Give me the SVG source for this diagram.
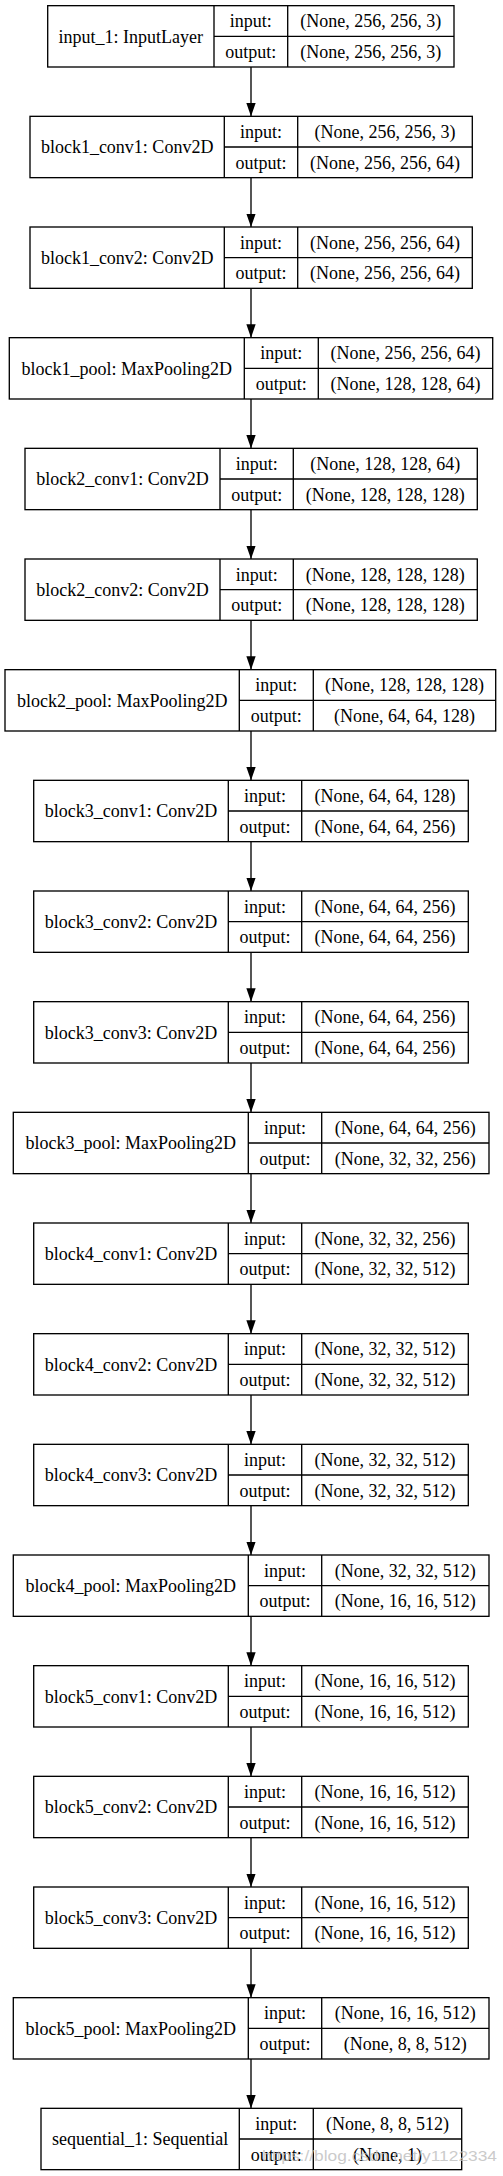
<svg xmlns="http://www.w3.org/2000/svg" width="503" height="2176" viewBox="0 0 503 2176">
<style>
.b{fill:#fff;stroke:#000;stroke-width:1.33}
.l{stroke:#000;stroke-width:1.33;fill:none}
text{font-family:"Liberation Serif","Times New Roman",serif;font-size:18px;fill:#000;text-anchor:middle}
.wm{font-family:"Liberation Sans",Arial,sans-serif;font-size:15px;fill:#bdbdbd;fill-opacity:0.8;text-anchor:start}
</style>
<defs>
<marker id="ah" markerUnits="userSpaceOnUse" markerWidth="13.33" markerHeight="9.33" viewBox="0 0 13.33 9.33" refX="13.33" refY="4.67" orient="auto">
<path d="M0,0 L13.33,4.67 L0,9.33 z" fill="#000"/>
</marker>
</defs>
<rect width="503" height="2176" fill="#fff"/>
<g id="connectors">
<path class="l" marker-end="url(#ah)" d="M251,67 V116.33"/>
<path class="l" marker-end="url(#ah)" d="M251,177.67 V227"/>
<path class="l" marker-end="url(#ah)" d="M251,288.33 V337.67"/>
<path class="l" marker-end="url(#ah)" d="M251,399 V448.33"/>
<path class="l" marker-end="url(#ah)" d="M251,509.67 V559"/>
<path class="l" marker-end="url(#ah)" d="M251,620.33 V669.67"/>
<path class="l" marker-end="url(#ah)" d="M251,731 V780.33"/>
<path class="l" marker-end="url(#ah)" d="M251,841.67 V891"/>
<path class="l" marker-end="url(#ah)" d="M251,952.33 V1001.67"/>
<path class="l" marker-end="url(#ah)" d="M251,1063 V1112.33"/>
<path class="l" marker-end="url(#ah)" d="M251,1173.67 V1223"/>
<path class="l" marker-end="url(#ah)" d="M251,1284.33 V1333.67"/>
<path class="l" marker-end="url(#ah)" d="M251,1395 V1444.33"/>
<path class="l" marker-end="url(#ah)" d="M251,1505.67 V1555"/>
<path class="l" marker-end="url(#ah)" d="M251,1616.33 V1665.67"/>
<path class="l" marker-end="url(#ah)" d="M251,1727 V1776.33"/>
<path class="l" marker-end="url(#ah)" d="M251,1837.67 V1887"/>
<path class="l" marker-end="url(#ah)" d="M251,1948.33 V1997.67"/>
<path class="l" marker-end="url(#ah)" d="M251,2059 V2108.33"/>
</g>

<g id="input_1" transform="translate(0,5.67)">
<rect class="b" x="47.7" y="0" width="406.3" height="61.33"/>
<path class="l" d="M214,0 V61.33 M287.7,0 V61.33 M214,30.67 H454"/>
<text x="130.85" y="37">input_1: InputLayer</text>
<text x="250.85" y="21.6">input:</text>
<text x="250.85" y="52.3">output:</text>
<text x="370.85" y="21.6">(None, 256, 256, 3)</text>
<text x="370.85" y="52.3">(None, 256, 256, 3)</text>
</g>

<g id="block1_conv1" transform="translate(0,116.33)">
<rect class="b" x="30" y="0" width="442.3" height="61.33"/>
<path class="l" d="M224.3,0 V61.33 M297.7,0 V61.33 M224.3,30.67 H472.3"/>
<text x="127.15" y="37">block1_conv1: Conv2D</text>
<text x="261" y="21.6">input:</text>
<text x="261" y="52.3">output:</text>
<text x="385" y="21.6">(None, 256, 256, 3)</text>
<text x="385" y="52.3">(None, 256, 256, 64)</text>
</g>

<g id="block1_conv2" transform="translate(0,227)">
<rect class="b" x="30" y="0" width="442.3" height="61.33"/>
<path class="l" d="M224.3,0 V61.33 M297.7,0 V61.33 M224.3,30.67 H472.3"/>
<text x="127.15" y="37">block1_conv2: Conv2D</text>
<text x="261" y="21.6">input:</text>
<text x="261" y="52.3">output:</text>
<text x="385" y="21.6">(None, 256, 256, 64)</text>
<text x="385" y="52.3">(None, 256, 256, 64)</text>
</g>

<g id="block1_pool" transform="translate(0,337.67)">
<rect class="b" x="9.3" y="0" width="483.4" height="61.33"/>
<path class="l" d="M244.3,0 V61.33 M318.3,0 V61.33 M244.3,30.67 H492.7"/>
<text x="126.8" y="37">block1_pool: MaxPooling2D</text>
<text x="281.3" y="21.6">input:</text>
<text x="281.3" y="52.3">output:</text>
<text x="405.5" y="21.6">(None, 256, 256, 64)</text>
<text x="405.5" y="52.3">(None, 128, 128, 64)</text>
</g>

<g id="block2_conv1" transform="translate(0,448.33)">
<rect class="b" x="25" y="0" width="452.3" height="61.33"/>
<path class="l" d="M220,0 V61.33 M293.3,0 V61.33 M220,30.67 H477.3"/>
<text x="122.5" y="37">block2_conv1: Conv2D</text>
<text x="256.65" y="21.6">input:</text>
<text x="256.65" y="52.3">output:</text>
<text x="385.3" y="21.6">(None, 128, 128, 64)</text>
<text x="385.3" y="52.3">(None, 128, 128, 128)</text>
</g>

<g id="block2_conv2" transform="translate(0,559)">
<rect class="b" x="25" y="0" width="452.3" height="61.33"/>
<path class="l" d="M220,0 V61.33 M293.3,0 V61.33 M220,30.67 H477.3"/>
<text x="122.5" y="37">block2_conv2: Conv2D</text>
<text x="256.65" y="21.6">input:</text>
<text x="256.65" y="52.3">output:</text>
<text x="385.3" y="21.6">(None, 128, 128, 128)</text>
<text x="385.3" y="52.3">(None, 128, 128, 128)</text>
</g>

<g id="block2_pool" transform="translate(0,669.67)">
<rect class="b" x="5" y="0" width="490.7" height="61.33"/>
<path class="l" d="M239.3,0 V61.33 M313.3,0 V61.33 M239.3,30.67 H495.7"/>
<text x="122.15" y="37">block2_pool: MaxPooling2D</text>
<text x="276.3" y="21.6">input:</text>
<text x="276.3" y="52.3">output:</text>
<text x="404.5" y="21.6">(None, 128, 128, 128)</text>
<text x="404.5" y="52.3">(None, 64, 64, 128)</text>
</g>

<g id="block3_conv1" transform="translate(0,780.33)">
<rect class="b" x="33.7" y="0" width="434.6" height="61.33"/>
<path class="l" d="M228.3,0 V61.33 M301.7,0 V61.33 M228.3,30.67 H468.3"/>
<text x="131" y="37">block3_conv1: Conv2D</text>
<text x="265" y="21.6">input:</text>
<text x="265" y="52.3">output:</text>
<text x="385" y="21.6">(None, 64, 64, 128)</text>
<text x="385" y="52.3">(None, 64, 64, 256)</text>
</g>

<g id="block3_conv2" transform="translate(0,891)">
<rect class="b" x="33.7" y="0" width="434.6" height="61.33"/>
<path class="l" d="M228.3,0 V61.33 M301.7,0 V61.33 M228.3,30.67 H468.3"/>
<text x="131" y="37">block3_conv2: Conv2D</text>
<text x="265" y="21.6">input:</text>
<text x="265" y="52.3">output:</text>
<text x="385" y="21.6">(None, 64, 64, 256)</text>
<text x="385" y="52.3">(None, 64, 64, 256)</text>
</g>

<g id="block3_conv3" transform="translate(0,1001.67)">
<rect class="b" x="33.7" y="0" width="434.6" height="61.33"/>
<path class="l" d="M228.3,0 V61.33 M301.7,0 V61.33 M228.3,30.67 H468.3"/>
<text x="131" y="37">block3_conv3: Conv2D</text>
<text x="265" y="21.6">input:</text>
<text x="265" y="52.3">output:</text>
<text x="385" y="21.6">(None, 64, 64, 256)</text>
<text x="385" y="52.3">(None, 64, 64, 256)</text>
</g>

<g id="block3_pool" transform="translate(0,1112.33)">
<rect class="b" x="13.3" y="0" width="475.7" height="61.33"/>
<path class="l" d="M248.3,0 V61.33 M321.7,0 V61.33 M248.3,30.67 H489"/>
<text x="130.8" y="37">block3_pool: MaxPooling2D</text>
<text x="285" y="21.6">input:</text>
<text x="285" y="52.3">output:</text>
<text x="405.35" y="21.6">(None, 64, 64, 256)</text>
<text x="405.35" y="52.3">(None, 32, 32, 256)</text>
</g>

<g id="block4_conv1" transform="translate(0,1223)">
<rect class="b" x="33.7" y="0" width="434.6" height="61.33"/>
<path class="l" d="M228.3,0 V61.33 M301.7,0 V61.33 M228.3,30.67 H468.3"/>
<text x="131" y="37">block4_conv1: Conv2D</text>
<text x="265" y="21.6">input:</text>
<text x="265" y="52.3">output:</text>
<text x="385" y="21.6">(None, 32, 32, 256)</text>
<text x="385" y="52.3">(None, 32, 32, 512)</text>
</g>

<g id="block4_conv2" transform="translate(0,1333.67)">
<rect class="b" x="33.7" y="0" width="434.6" height="61.33"/>
<path class="l" d="M228.3,0 V61.33 M301.7,0 V61.33 M228.3,30.67 H468.3"/>
<text x="131" y="37">block4_conv2: Conv2D</text>
<text x="265" y="21.6">input:</text>
<text x="265" y="52.3">output:</text>
<text x="385" y="21.6">(None, 32, 32, 512)</text>
<text x="385" y="52.3">(None, 32, 32, 512)</text>
</g>

<g id="block4_conv3" transform="translate(0,1444.33)">
<rect class="b" x="33.7" y="0" width="434.6" height="61.33"/>
<path class="l" d="M228.3,0 V61.33 M301.7,0 V61.33 M228.3,30.67 H468.3"/>
<text x="131" y="37">block4_conv3: Conv2D</text>
<text x="265" y="21.6">input:</text>
<text x="265" y="52.3">output:</text>
<text x="385" y="21.6">(None, 32, 32, 512)</text>
<text x="385" y="52.3">(None, 32, 32, 512)</text>
</g>

<g id="block4_pool" transform="translate(0,1555)">
<rect class="b" x="13.3" y="0" width="475.7" height="61.33"/>
<path class="l" d="M248.3,0 V61.33 M321.7,0 V61.33 M248.3,30.67 H489"/>
<text x="130.8" y="37">block4_pool: MaxPooling2D</text>
<text x="285" y="21.6">input:</text>
<text x="285" y="52.3">output:</text>
<text x="405.35" y="21.6">(None, 32, 32, 512)</text>
<text x="405.35" y="52.3">(None, 16, 16, 512)</text>
</g>

<g id="block5_conv1" transform="translate(0,1665.67)">
<rect class="b" x="33.7" y="0" width="434.6" height="61.33"/>
<path class="l" d="M228.3,0 V61.33 M301.7,0 V61.33 M228.3,30.67 H468.3"/>
<text x="131" y="37">block5_conv1: Conv2D</text>
<text x="265" y="21.6">input:</text>
<text x="265" y="52.3">output:</text>
<text x="385" y="21.6">(None, 16, 16, 512)</text>
<text x="385" y="52.3">(None, 16, 16, 512)</text>
</g>

<g id="block5_conv2" transform="translate(0,1776.33)">
<rect class="b" x="33.7" y="0" width="434.6" height="61.33"/>
<path class="l" d="M228.3,0 V61.33 M301.7,0 V61.33 M228.3,30.67 H468.3"/>
<text x="131" y="37">block5_conv2: Conv2D</text>
<text x="265" y="21.6">input:</text>
<text x="265" y="52.3">output:</text>
<text x="385" y="21.6">(None, 16, 16, 512)</text>
<text x="385" y="52.3">(None, 16, 16, 512)</text>
</g>

<g id="block5_conv3" transform="translate(0,1887)">
<rect class="b" x="33.7" y="0" width="434.6" height="61.33"/>
<path class="l" d="M228.3,0 V61.33 M301.7,0 V61.33 M228.3,30.67 H468.3"/>
<text x="131" y="37">block5_conv3: Conv2D</text>
<text x="265" y="21.6">input:</text>
<text x="265" y="52.3">output:</text>
<text x="385" y="21.6">(None, 16, 16, 512)</text>
<text x="385" y="52.3">(None, 16, 16, 512)</text>
</g>

<g id="block5_pool" transform="translate(0,1997.67)">
<rect class="b" x="13.3" y="0" width="475.7" height="61.33"/>
<path class="l" d="M248.3,0 V61.33 M321.7,0 V61.33 M248.3,30.67 H489"/>
<text x="130.8" y="37">block5_pool: MaxPooling2D</text>
<text x="285" y="21.6">input:</text>
<text x="285" y="52.3">output:</text>
<text x="405.35" y="21.6">(None, 16, 16, 512)</text>
<text x="405.35" y="52.3">(None, 8, 8, 512)</text>
</g>

<g id="sequential_1" transform="translate(0,2108.33)">
<rect class="b" x="41" y="0" width="420.7" height="61.33"/>
<path class="l" d="M239.3,0 V61.33 M313.3,0 V61.33 M239.3,30.67 H461.7"/>
<text x="140.15" y="37">sequential_1: Sequential</text>
<text x="276.3" y="21.6">input:</text>
<text x="276.3" y="52.3">output:</text>
<text x="387.5" y="21.6">(None, 8, 8, 512)</text>
<text x="387.5" y="52.3">(None, 1)</text>
</g>

<text class="wm" x="262" y="2161" textLength="235" lengthAdjust="spacingAndGlyphs">https://blog.csdn.net/y1122334</text>
</svg>
